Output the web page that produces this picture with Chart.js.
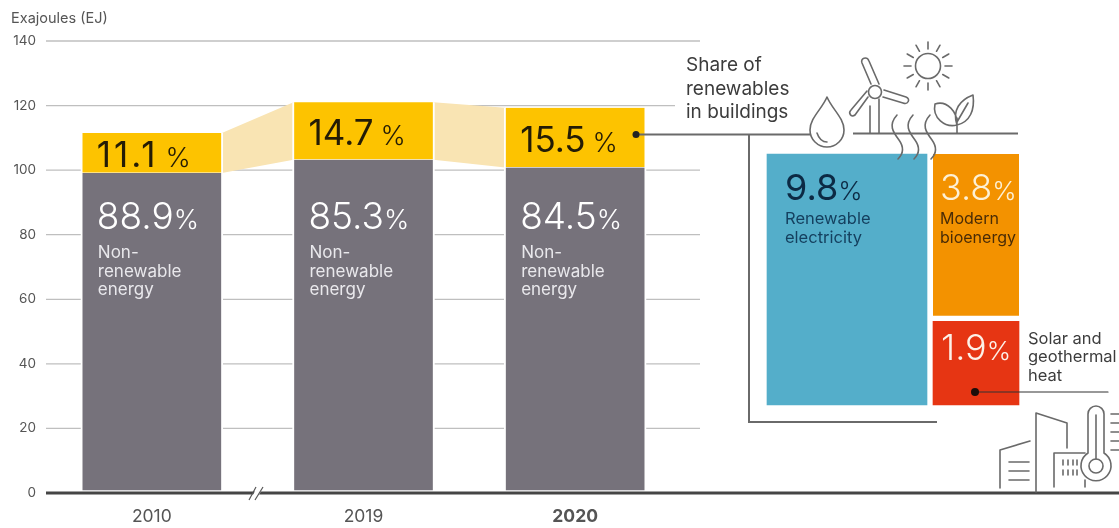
<!DOCTYPE html>
<html>
<head>
<meta charset="utf-8">
<title>Share of renewables in buildings</title>
<script src="https://cdn.jsdelivr.net/npm/chart.js@4"></script>
<style>
  html, body { margin: 0; background: #fff; }
  #stage { position: relative; width: 1119px; height: 528px; overflow: hidden; }
  #stage canvas, #stage svg { position: absolute; left: 0; top: 0; }
  #icons path, #icons line, #icons circle { fill: none; stroke: #6a6a6a; stroke-width: 1.6; stroke-linecap: round; stroke-linejoin: round; }
  #icons path.leader { stroke-width: 2; stroke-linecap: butt; stroke-linejoin: miter; }
  #icons text { font-family: Inter, sans-serif; fill: #3c3c3c; }
</style>
</head>
<body>
<div id="stage">
  <canvas id="energy" width="1119" height="528"></canvas>
  <canvas id="share" width="1119" height="528"></canvas>
  <svg id="icons" width="1119" height="528" viewBox="0 0 1119 528">
    <!-- leader from the 2020 bar round the breakdown panel -->
    <path class="leader" d="M636 134.500H810"/>
    <path class="leader" d="M749 134.500V422H937" />
    <path class="leader" d="M853 133.500H1018" />
    <circle cx="636" cy="134.500" r="3.500" style="fill:#222;stroke:none"/>
    <!-- droplet -->
    <path d="M827 97C822 109 810 118 810 130A17 17 0 0 0 844 130C844 118 832 109 827 97Z"/>
    <path d="M817 133C819 139 822 142 827 142"/>
    <!-- wind turbine -->
    <path d="M870 133V106M879 133V99"/>
    <path d="M871 84L862 63C860 58 867 56 869 61L879 84"/>
    <path d="M884 90L906 97C911 99 908 105 903 103L883 97"/>
    <path d="M868 97L855 115C851 118 848 113 851 110L867 91"/>
    <circle cx="875" cy="92" r="6.500"/>
    <!-- sun -->
    <circle cx="928" cy="66" r="12.500"/>
    <g id="rays"></g>
    <!-- seedling -->
    <path d="M957 133V118M957 125C945 128 932 118 935 104C947 100 958 112 957 125ZM957 125C952 110 960 100 973 95C975 110 970 122 957 125ZM957 122L968 103"/>
    <!-- heat rising off the ground line -->
    <path d="M897 115C888 125 893 132 899 140C904 147 904 153 898 159"/>
    <path d="M913 115C904 125 909 132 915 140C920 147 920 153 914 159"/>
    <path d="M930 115C921 125 926 132 932 140C937 147 937 153 931 159"/>
    <!-- buildings and thermometer -->
    <path d="M1000 488V450L1030 441M1009 462H1029M1009 471H1029M1009 480H1029"/>
    <path d="M1036 492V413L1067 423V448"/>
    <path d="M1054 487V453H1085M1085 480V487"/>
    <path d="M1063 460V465M1068 460V465M1073 460V465M1077 460V465M1063 470V475M1068 470V475M1073 470V475M1077 470V475"/>
    <path d="M1088 453V414A8 8 0 0 1 1104 414V453A15 15 0 1 1 1088 453Z"/>
    <path d="M1096 415V459"/>
    <circle cx="1096" cy="466" r="7"/>
    <path d="M1111 414H1119M1111 423H1119M1111 432H1119M1111 441H1119M1111 450H1119"/>
    <!-- callout for the solar share -->
    <path d="M975 392H1108" style="stroke:#333;stroke-width:1.200"/>
    <circle cx="975" cy="392" r="4" style="fill:#1c0d0a;stroke:none"/>
    <text x="686" y="71" font-size="19">Share of</text>
    <text x="686" y="95" font-size="19">renewables</text>
    <text x="686" y="118" font-size="19">in buildings</text>
    <text x="1028" y="344" font-size="16.500">Solar and</text>
    <text x="1028" y="362" font-size="16.500">geothermal</text>
    <text x="1028" y="381" font-size="16.500">heat</text>
  </svg>
</div>
<script>
// ── Data ──────────────────────────────────────────────────────────────────────
const years        = ['2010', '2019', '2020'];
const yTicksMax    = 140;
const nonRenewable = [99.1, 103.2, 100.8];   // EJ
const renewable    = [12.4, 17.8, 18.5];     // EJ
const nonRenewPct  = ['88.9', '85.3', '84.5'];
const renewPct     = ['11.1', '14.7', '15.5'];
const nonRenewText = ['Non-', 'renewable', 'energy'];

const shareLabels  = ['Renewable electricity', 'Other renewables'];
const electricity  = [9.8, null];
const bioenergy    = [null, 3.8];
const solarHeat    = [null, 1.9];

const C = {
    grey: '#76727b', yellow: '#fdc300', band: '#f9e4b3',
    blue: '#54aeca', orange: '#f39200', red: '#e63513',
    grid: '#bfbfbf', axis: '#454545', tick: '#555555',
};
const FONT = 'Inter, sans-serif';

// Big number with its smaller percent sign
function drawPct(ctx, num, x, y, color, o) {
    ctx.fillStyle = color;
    ctx.font = `${o.weight} ${o.size}px ${FONT}`;
    ctx.textAlign = 'left';
    ctx.textBaseline = 'alphabetic';
    ctx.letterSpacing = num === '11.1' ? '3px' : '0px';   // this face sets its 1s narrow
    ctx.fillText(num, x, y);
    const w = ctx.measureText(num).width;
    ctx.letterSpacing = '0px';
    ctx.font = `300 ${Math.round(o.size * o.pct)}px ${FONT}`;
    ctx.fillText('%', x + w + o.gap, y);
}

function drawLines(ctx, lines, x, ys, color, size) {
    ctx.fillStyle = color;
    ctx.font = `400 ${size}px ${FONT}`;
    ctx.textAlign = 'left';
    lines.forEach((t, i) => ctx.fillText(t, x, ys[i]));
}

// ── Gridlines, connector bands, axis baseline and bar labels ──────────────────
const energyDecor = {
    id: 'energyDecor',
    beforeDatasetsDraw(chart) {
        const { ctx, scales: { y } } = chart;
        ctx.save();
        ctx.strokeStyle = C.grid;
        ctx.lineWidth = 1.3;
        y.ticks.forEach(t => {
            if (t.value === 0) return;
            const py = y.getPixelForValue(t.value);
            ctx.beginPath();
            ctx.moveTo(chart.chartArea.left, py);
            ctx.lineTo(t.value === 120 ? 675 : 700, py);
            ctx.stroke();
        });
        // faded bands joining the renewable segments
        const bars = chart.getDatasetMeta(1).data;
        ctx.fillStyle = C.band;
        for (let i = 0; i < bars.length - 1; i++) {
            const a = bars[i], b = bars[i + 1];
            const x0 = a.x + a.width / 2 - 1, x1 = b.x - b.width / 2 + 1;
            ctx.beginPath();
            ctx.moveTo(x0, a.y);
            ctx.lineTo(x1, b.y);
            ctx.lineTo(x1, b.base);
            ctx.lineTo(x0, a.base);
            ctx.closePath();
            ctx.fill();
        }
        ctx.restore();
    },
    afterDatasetsDraw(chart) {
        const { ctx, scales: { y } } = chart;
        const base = y.getPixelForValue(0);
        ctx.save();
        // baseline runs under the breakdown panel to the page edge
        ctx.strokeStyle = C.axis;
        ctx.lineWidth = 3;
        ctx.beginPath();
        ctx.moveTo(chart.chartArea.left, base);
        ctx.lineTo(1119, base);
        ctx.stroke();
        // axis break between 2010 and 2019
        ctx.fillStyle = '#fff';
        ctx.beginPath();
        ctx.moveTo(252, base + 4); ctx.lineTo(258, base + 4);
        ctx.lineTo(262, base - 4); ctx.lineTo(256, base - 4);
        ctx.closePath();
        ctx.fill();
        ctx.strokeStyle = '#555';
        ctx.lineWidth = 1.2;
        [[249, 256], [255, 263]].forEach(([x0, x1]) => {
            ctx.beginPath();
            ctx.moveTo(x0, base + 7);
            ctx.lineTo(x1, base - 6);
            ctx.stroke();
        });
        // labels inside the bars
        const bars = chart.getDatasetMeta(1).data;
        bars.forEach((b, i) => {
            const left = b.x - b.width / 2;
            drawPct(ctx, renewPct[i], left + 16, (b.y + b.base) / 2 + 14, '#241c05', { weight: 400, size: 35, pct: 0.78, gap: 7 });
            drawPct(ctx, nonRenewPct[i], left + 16, 229, '#ffffff', { weight: 300, size: 37, pct: 0.72, gap: 0 });
            drawLines(ctx, nonRenewText, left + 17, [258, 277, 295], '#e9e8ec', 17);
        });
        ctx.fillStyle = C.tick;
        ctx.font = `400 14.5px ${FONT}`;
        ctx.textAlign = 'left';
        ctx.fillText('Exajoules (EJ)', 11, 23);
        ctx.restore();
    },
};

new Chart(document.getElementById('energy'), {
    type: 'bar',
    data: {
        labels: years,
        datasets: [
            { label: 'Non-renewable energy', data: nonRenewable, backgroundColor: C.grey, borderColor: '#fff', borderWidth: { left: 2, right: 2, top: 0, bottom: 3 }, borderSkipped: false, barThickness: 142 },
            { label: 'Renewables', data: renewable, backgroundColor: C.yellow, borderColor: '#fff', borderWidth: { left: 2, right: 2, top: 0, bottom: 1 }, borderSkipped: false, barThickness: 142 },
        ],
    },
    options: {
        responsive: false, animation: false,
        layout: { padding: { top: 41, right: 438, left: 0, bottom: 0 } },
        plugins: { legend: { display: false }, tooltip: { enabled: false } },
        scales: {
            x: {
                stacked: true,
                grid: { display: false, drawTicks: false }, border: { display: false },
                afterFit: s => { s.height = 35; },
                ticks: {
                    padding: 13, color: C.tick,
                    font: ctx => ({ family: FONT, size: 17.5, weight: ctx.index === 2 ? '700' : '400' }),
                },
            },
            y: {
                stacked: true, min: 0, max: yTicksMax,
                grid: { display: false, drawTicks: false }, border: { display: false },
                afterFit: s => { s.width = 46; },
                ticks: { stepSize: 20, padding: 10, color: C.tick, font: { family: FONT, size: 13.5 } },
            },
        },
    },
    plugins: [energyDecor],
});

// ── Breakdown of the 2020 renewable share ─────────────────────────────────────
const shareDecor = {
    id: 'shareDecor',
    afterDatasetsDraw(chart) {
        const { ctx } = chart;
        const elec = chart.getDatasetMeta(0).data[0];
        const bio  = chart.getDatasetMeta(2).data[1];
        ctx.save();
        const xe = elec.x - elec.width / 2 + 18;
        const xb = bio.x - bio.width / 2 + 7;
        const big = { weight: 300, size: 36, pct: 0.72, gap: 0 };
        drawPct(ctx, '9.8', xe, 200, '#0c2a44', { ...big, weight: 400 });
        drawLines(ctx, ['Renewable', 'electricity'], xe, [224, 243], '#15405f', 16.5);
        drawPct(ctx, '3.8', xb, 200, '#fdf1d6', big);
        drawLines(ctx, ['Modern', 'bioenergy'], xb, [224, 243], '#4a2c06', 16);
        drawPct(ctx, '1.9', xb + 1, 360, '#fdf1e8', big);
        ctx.restore();
    },
};

new Chart(document.getElementById('share'), {
    type: 'bar',
    data: {
        labels: shareLabels,
        datasets: [
            { label: 'Renewable electricity', data: electricity, backgroundColor: C.blue, barThickness: 160, yAxisID: 'yElec', clip: false },
            { label: 'Solar and geothermal heat', data: solarHeat, backgroundColor: C.red, barThickness: 86, clip: false },
            { label: 'Modern bioenergy', data: bioenergy, backgroundColor: C.orange, barThickness: 86, borderColor: '#fff', borderWidth: { left: 0, right: 0, top: 0, bottom: 6 }, borderSkipped: false, clip: false },
        ],
    },
    options: {
        responsive: false, animation: false,
        layout: { padding: { left: 782.5, right: 78.5, top: 154, bottom: 123 } },
        plugins: { legend: { display: false }, tooltip: { enabled: false } },
        scales: {
            x: { display: false, stacked: true },
            y: { display: false, stacked: true, min: 0, max: bioenergy[1] + solarHeat[1] },
            yElec: { display: false, stacked: true, min: 0, max: electricity[0] },
        },
    },
    plugins: [shareDecor],
});

// ── Sun rays ──────────────────────────────────────────────────────────────────
const rays = document.getElementById('rays');
for (let a = 0; a < 360; a += 30) {
    const l = document.createElementNS('http://www.w3.org/2000/svg', 'line');
    l.setAttribute('x1', 928); l.setAttribute('x2', 928);
    l.setAttribute('y1', 49);  l.setAttribute('y2', 42);
    l.setAttribute('transform', `rotate(${a} 928 66)`);
    rays.appendChild(l);
}
</script>
</body>
</html>
